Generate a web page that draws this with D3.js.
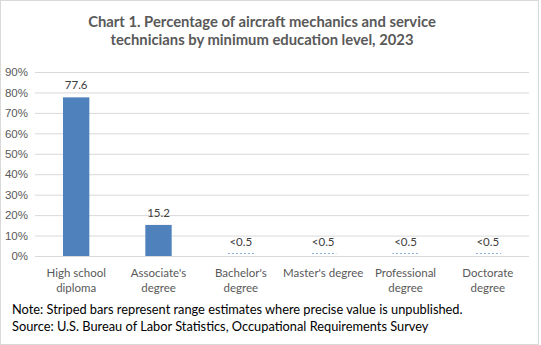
<!DOCTYPE html>
<html>
<head>
<meta charset="utf-8">
<script src="https://cdn.jsdelivr.net/npm/d3@7"></script>
<style>
  body { margin: 0; background: #fff; }
  svg { display: block; font-family: Lato, "Open Sans", sans-serif; }
</style>
</head>
<body>
<svg id="chart" width="541" height="345"></svg>
<script>
// education levels, share of workers (percent)
var categories = ["High school diploma", "Associate's degree", "Bachelor's degree", "Master's degree", "Professional degree", "Doctorate degree"];
var axisLabels = [["High school", "diploma"], ["Associate's", "degree"], ["Bachelor's", "degree"], ["Master's degree"], ["Professional", "degree"], ["Doctorate", "degree"]];
var values = [77.6, 15.2, 0.5, 0.5, 0.5, 0.5];
var valueLabels = ["77.6", "15.2", "<0.5", "<0.5", "<0.5", "<0.5"];
var striped = [false, false, true, true, true, true];
var yTicks = [0, 10, 20, 30, 40, 50, 60, 70, 80, 90];

var titleLines = ["Chart 1. Percentage of aircraft mechanics and service", "technicians by minimum education level, 2023"];
var noteLines = ["Note: Striped bars represent range estimates where precise value is unpublished.", "Source: U.S. Bureau of Labor Statistics, Occupational Requirements Survey"];

var svg = d3.select("#chart");
var W = 541, H = 345;
var margin = {left: 35, right: 12, top: 72, bottom: 89};

// outer frame
svg.append("rect")
    .attr("x", 0.5).attr("y", 0.5)
    .attr("width", W - 3).attr("height", H - 1)
    .attr("fill", "#fff").attr("stroke", "#d9d9d9");

var x = d3.scaleBand()
    .domain(categories)
    .range([margin.left, W - margin.right])
    .paddingInner(0.68).paddingOuter(0.34);

var y = d3.scaleLinear()
    .domain([0, 90])
    .range([H - margin.bottom, margin.top]);

// stripes for range estimates
var defs = svg.append("defs");
defs.append("pattern")
    .attr("id", "stripes")
    .attr("patternUnits", "userSpaceOnUse")
    .attr("width", 4).attr("height", 4)
    .append("rect")
    .attr("width", 2).attr("height", 4)
    .attr("fill", "#8fb0dc");

// gridlines + y labels
var yAxis = d3.axisLeft(y)
    .tickValues(yTicks)
    .tickSize(-(W - margin.left - margin.right))
    .tickPadding(7)
    .tickFormat(function (d) { return d + "%"; });

var gy = svg.append("g")
    .attr("transform", "translate(" + margin.left + ",0)")
    .call(yAxis);
gy.select(".domain").remove();
gy.selectAll(".tick line").attr("stroke", "#d9d9d9");
gy.selectAll(".tick text")
    .attr("fill", "#595959")
    .style("font-size", "11.5px");

// bars
svg.selectAll(".bar")
    .data(categories)
    .enter().append("rect")
    .attr("class", "bar")
    .attr("x", function (d) { return x(d); })
    .attr("width", x.bandwidth())
    .attr("y", function (d, i) { return striped[i] ? y(values[i]) - 2 : y(values[i]); })
    .attr("height", function (d, i) { return striped[i] ? 1 : y(0) - y(values[i]); })
    .attr("fill", function (d, i) { return striped[i] ? "url(#stripes)" : "#4f81bd"; });

// value labels
svg.selectAll(".val")
    .data(categories)
    .enter().append("text")
    .attr("class", "val")
    .attr("x", function (d) { return x(d) + x.bandwidth() / 2; })
    .attr("y", function (d, i) { return y(values[i]) - (striped[i] ? 9 : 8); })
    .attr("text-anchor", "middle")
    .attr("fill", "#404040")
    .style("font-size", "11.5px")
    .text(function (d, i) { return valueLabels[i]; });

// category labels
var xl = svg.selectAll(".xlab")
    .data(categories)
    .enter().append("text")
    .attr("class", "xlab")
    .attr("text-anchor", "middle")
    .attr("fill", "#595959")
    .style("font-size", "11.5px")
    .attr("transform", function (d) { return "translate(" + (x(d) + x.bandwidth() / 2) + ",277)"; });
xl.selectAll("tspan")
    .data(function (d, i) { return axisLabels[i]; })
    .enter().append("tspan")
    .attr("x", 0)
    .attr("dy", function (d, i) { return i ? 14.5 : 0; })
    .text(function (d) { return d; });

// title
svg.append("g").selectAll("text")
    .data(titleLines)
    .enter().append("text")
    .attr("x", 262)
    .attr("y", function (d, i) { return 27 + i * 17.5; })
    .attr("text-anchor", "middle")
    .attr("fill", "#595959")
    .style("font-size", "14.8px")
    .style("font-weight", "bold")
    .text(function (d) { return d; });

// note and source
svg.append("g").selectAll("text")
    .data(noteLines)
    .enter().append("text")
    .attr("x", 12)
    .attr("y", function (d, i) { return 314 + i * 17; })
    .attr("fill", "#000")
    .style("font-size", "12.8px")
    .text(function (d) { return d; });
</script>
</body>
</html>
